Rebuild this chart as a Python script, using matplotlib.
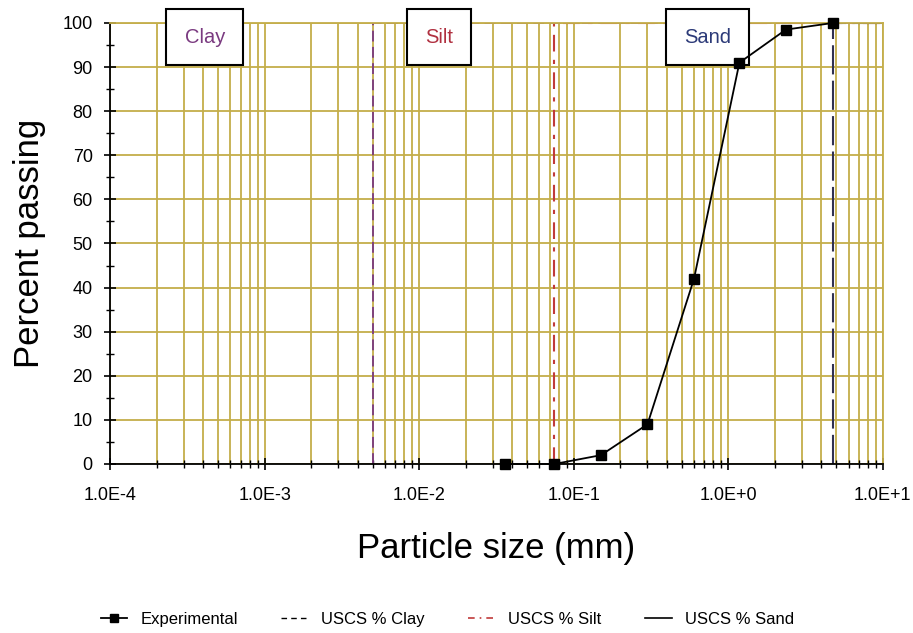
import matplotlib.pyplot as plt
from matplotlib.ticker import FixedLocator, LogLocator, NullFormatter
from matplotlib.lines import Line2D

plt.rcParams['font.family'] = ['Liberation Sans', 'DejaVu Sans']

# sieve data
sizes = [0.036, 0.075, 0.15, 0.3, 0.6, 1.18, 2.36, 4.75]
passing = [0.0, 0.0, 2.0, 9.0, 42.0, 91.0, 98.5, 100.0]

# USCS boundaries (mm)
clay_limit = 0.005
silt_limit = 0.075
sand_limit = 4.75

x_ticks = [1e-4, 1e-3, 1e-2, 1e-1, 1e0, 1e1]
x_labels = ['1.0E-4', '1.0E-3', '1.0E-2', '1.0E-1', '1.0E+0', '1.0E+1']
zones = ['Clay', 'Silt', 'Sand']
zone_x = [4.1e-4, 1.34e-2, 0.73]
zone_colors = ['#7a3a80', '#b03040', '#2c3a78']

grid_col = '#c4ae4a'

fig = plt.figure(figsize=(9.13, 6.33), dpi=100)
ax = fig.add_axes([0.1205, 0.267, 0.8465, 0.6967])
ax.set_xscale('log')
ax.set_xlim(1e-4, 1e1)
ax.set_ylim(0, 100)

ax.xaxis.set_major_locator(FixedLocator(x_ticks))
ax.set_xticklabels(x_labels)
ax.xaxis.set_minor_locator(LogLocator(base=10, subs=range(2, 10)))
ax.xaxis.set_minor_formatter(NullFormatter())
ax.set_yticks(range(0, 101, 10))
ax.set_yticks(range(5, 100, 10), minor=True)

ax.grid(which='major', color=grid_col, lw=1.3)
ax.grid(which='minor', axis='x', color=grid_col, lw=1.3)
ax.set_axisbelow(True)

for s in ['top', 'right']:
    ax.spines[s].set_color(grid_col)
    ax.spines[s].set_linewidth(1.3)
for s in ['left', 'bottom']:
    ax.spines[s].set_linewidth(1.3)

ax.tick_params(which='major', direction='inout', length=9, width=1.2, labelsize=13)
ax.tick_params(axis='x', which='major', pad=12)
ax.tick_params(axis='y', which='major', pad=8)
ax.tick_params(which='minor', direction='inout', length=6, width=1.0)

# USCS step lines
ax.plot([clay_limit, clay_limit, 1e1], [0, 100, 100], color='#7a3a80', lw=1.3,
        ls=(0, (6, 3)))
ax.plot([silt_limit, silt_limit, 1e1], [0, 100, 100], color='#c03a3a', lw=1.5,
        ls=(0, (8, 4, 2, 4)))
ax.plot([sand_limit, sand_limit, 1e1], [0, 100, 100], color='#303050', lw=1.5,
        ls=(0, (14, 3)))

ax.plot(sizes, passing, color='black', lw=1.3, marker='s', ms=7, zorder=11,
        clip_on=False)

for name, xz, c in zip(zones, zone_x, zone_colors):
    ax.text(xz, 96.8, name, color=c, fontsize=14.5, ha='center', va='center',
            zorder=10,
            bbox=dict(boxstyle='square,pad=0.9', fc='white', ec='black', lw=1.5))

ax.set_ylabel('Percent passing', fontsize=25, labelpad=12)
ax.set_xlabel('Particle size (mm)', fontsize=25, labelpad=20)

handles = [
    Line2D([], [], color='black', marker='s', ms=6, lw=1.3),
    Line2D([], [], color='black', ls=(0, (4, 3)), lw=1),
    Line2D([], [], color='#c03a3a', ls=(0, (4, 3, 1, 3)), lw=1.2),
    Line2D([], [], color='black', lw=1.2),
]
labels = ['Experimental', 'USCS % Clay', 'USCS % Silt', 'USCS % Sand']
fig.legend(handles, labels, loc='center', bbox_to_anchor=(0.49, 0.022),
           ncol=4, frameon=False, fontsize=12, handlelength=1.6,
           columnspacing=2.6)

fig.savefig('out.png', dpi=100)
